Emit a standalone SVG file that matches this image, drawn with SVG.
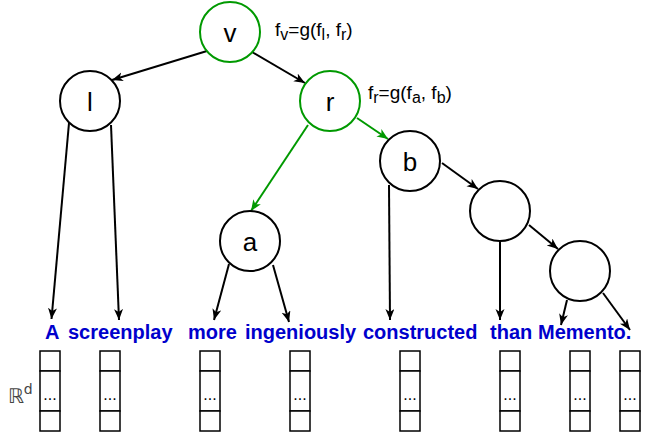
<svg xmlns="http://www.w3.org/2000/svg" width="651" height="442" viewBox="0 0 651 442">
<defs>
<marker id="ah" markerUnits="userSpaceOnUse" markerWidth="12" markerHeight="10" refX="11" refY="4.5" orient="auto">
<path d="M0,0 L11,4.5 L0,9 L3,4.5 Z" fill="#000"/>
</marker>
<marker id="ahg" markerUnits="userSpaceOnUse" markerWidth="12" markerHeight="10" refX="11" refY="4.5" orient="auto">
<path d="M0,0 L11,4.5 L0,9 L3,4.5 Z" fill="#009900"/>
</marker>
</defs>
<style>
.e{stroke:#000;stroke-width:2;fill:none;marker-end:url(#ah)}
.g{stroke:#009900;stroke-width:2;fill:none;marker-end:url(#ahg)}
.n{fill:#fff;stroke:#000;stroke-width:2}
.ng{fill:#fff;stroke:#009900;stroke-width:2}
.lbl{font-family:"Liberation Sans",Arial,sans-serif;font-size:26px;fill:#000;text-anchor:middle}
.f{font-family:"Liberation Sans",Arial,sans-serif;font-size:19px;fill:#000}
.w{font-family:"Liberation Sans",Arial,sans-serif;font-size:20px;font-weight:bold;fill:#0000CC}
.v{fill:#fff;stroke:#000;stroke-width:1.5}
.dots{font-family:"Liberation Sans",Arial,sans-serif;font-size:16px;fill:#000;text-anchor:middle}
</style>
<rect width="651" height="442" fill="#fff"/>
<g id="connectors">
<line class="e" x1="207" y1="51" x2="112" y2="80"/>
<line class="e" x1="252" y1="52" x2="305" y2="83"/>
<line class="g" x1="308" y1="125" x2="251" y2="211"/>
<line class="g" x1="357" y1="118" x2="388" y2="139"/>
<line class="e" x1="69" y1="123" x2="51.5" y2="319"/>
<line class="e" x1="111" y1="125" x2="119" y2="320"/>
<line class="e" x1="229" y1="264" x2="214" y2="320"/>
<line class="e" x1="273" y1="265" x2="289" y2="322"/>
<line class="e" x1="389" y1="185" x2="390" y2="320"/>
<line class="e" x1="442" y1="163" x2="478" y2="189"/>
<line class="e" x1="500" y1="241" x2="500" y2="320"/>
<line class="e" x1="529" y1="225" x2="558" y2="249"/>
<line class="e" x1="567" y1="300" x2="561" y2="325"/>
<line class="e" x1="603" y1="293" x2="630" y2="330"/>
</g>
<g id="node-v"><circle class="ng" cx="230" cy="32" r="30"/><text class="lbl" x="230" y="42">v</text></g>
<g id="node-l"><circle class="n" cx="90" cy="101" r="30"/><text class="lbl" x="90" y="111">l</text></g>
<g id="node-r"><circle class="ng" cx="330" cy="101" r="30"/><text class="lbl" x="330" y="111">r</text></g>
<g id="node-a"><circle class="n" cx="250" cy="241" r="30"/><text class="lbl" x="250" y="251">a</text></g>
<g id="node-b"><circle class="n" cx="410" cy="161" r="30"/><text class="lbl" x="410" y="171">b</text></g>
<g id="node-c"><circle class="n" cx="500" cy="211" r="30"/></g>
<g id="node-d"><circle class="n" cx="580" cy="271" r="30"/></g>
<g id="formula-v"><text class="f" x="275" y="36">f<tspan font-size="16" dy="4">v</tspan><tspan dy="-4">=g(f</tspan><tspan font-size="16" dy="4">l</tspan><tspan dy="-4">, f</tspan><tspan font-size="16" dy="4">r</tspan><tspan dy="-4">)</tspan></text></g>
<g id="formula-r"><text class="f" x="368" y="99">f<tspan font-size="16" dy="4">r</tspan><tspan dy="-4">=g(f</tspan><tspan font-size="16" dy="4">a</tspan><tspan dy="-4">, f</tspan><tspan font-size="16" dy="4">b</tspan><tspan dy="-4">)</tspan></text></g>
<g id="words">
<text class="w" x="45" y="339">A</text>
<text class="w" x="68" y="339">screenplay</text>
<text class="w" x="188" y="339">more</text>
<text class="w" x="245" y="339">ingeniously</text>
<text class="w" x="363" y="339">constructed</text>
<text class="w" x="490" y="339">than</text>
<text class="w" x="538" y="339">Memento.</text>
</g>
<g id="rd"><text x="8" y="403" font-family="'DejaVu Sans',sans-serif" font-size="20" fill="#444">ℝ<tspan font-size="14" dy="-9">d</tspan></text></g>
<g id="vectors">
<g><rect class="v" x="40" y="351" width="20" height="20"/><rect class="v" x="40" y="371" width="20" height="40"/><rect class="v" x="40" y="411" width="20" height="20"/><text class="dots" x="50" y="400">...</text></g>
<g><rect class="v" x="100" y="351" width="20" height="20"/><rect class="v" x="100" y="371" width="20" height="40"/><rect class="v" x="100" y="411" width="20" height="20"/><text class="dots" x="110" y="400">...</text></g>
<g><rect class="v" x="200" y="351" width="20" height="20"/><rect class="v" x="200" y="371" width="20" height="40"/><rect class="v" x="200" y="411" width="20" height="20"/><text class="dots" x="210" y="400">...</text></g>
<g><rect class="v" x="290" y="351" width="20" height="20"/><rect class="v" x="290" y="371" width="20" height="40"/><rect class="v" x="290" y="411" width="20" height="20"/><text class="dots" x="300" y="400">...</text></g>
<g><rect class="v" x="400" y="351" width="20" height="20"/><rect class="v" x="400" y="371" width="20" height="40"/><rect class="v" x="400" y="411" width="20" height="20"/><text class="dots" x="410" y="400">...</text></g>
<g><rect class="v" x="500" y="351" width="20" height="20"/><rect class="v" x="500" y="371" width="20" height="40"/><rect class="v" x="500" y="411" width="20" height="20"/><text class="dots" x="510" y="400">...</text></g>
<g><rect class="v" x="570" y="351" width="20" height="20"/><rect class="v" x="570" y="371" width="20" height="40"/><rect class="v" x="570" y="411" width="20" height="20"/><text class="dots" x="580" y="400">...</text></g>
<g><rect class="v" x="620" y="351" width="20" height="20"/><rect class="v" x="620" y="371" width="20" height="40"/><rect class="v" x="620" y="411" width="20" height="20"/><text class="dots" x="630" y="400">...</text></g>
</g>
</svg>
